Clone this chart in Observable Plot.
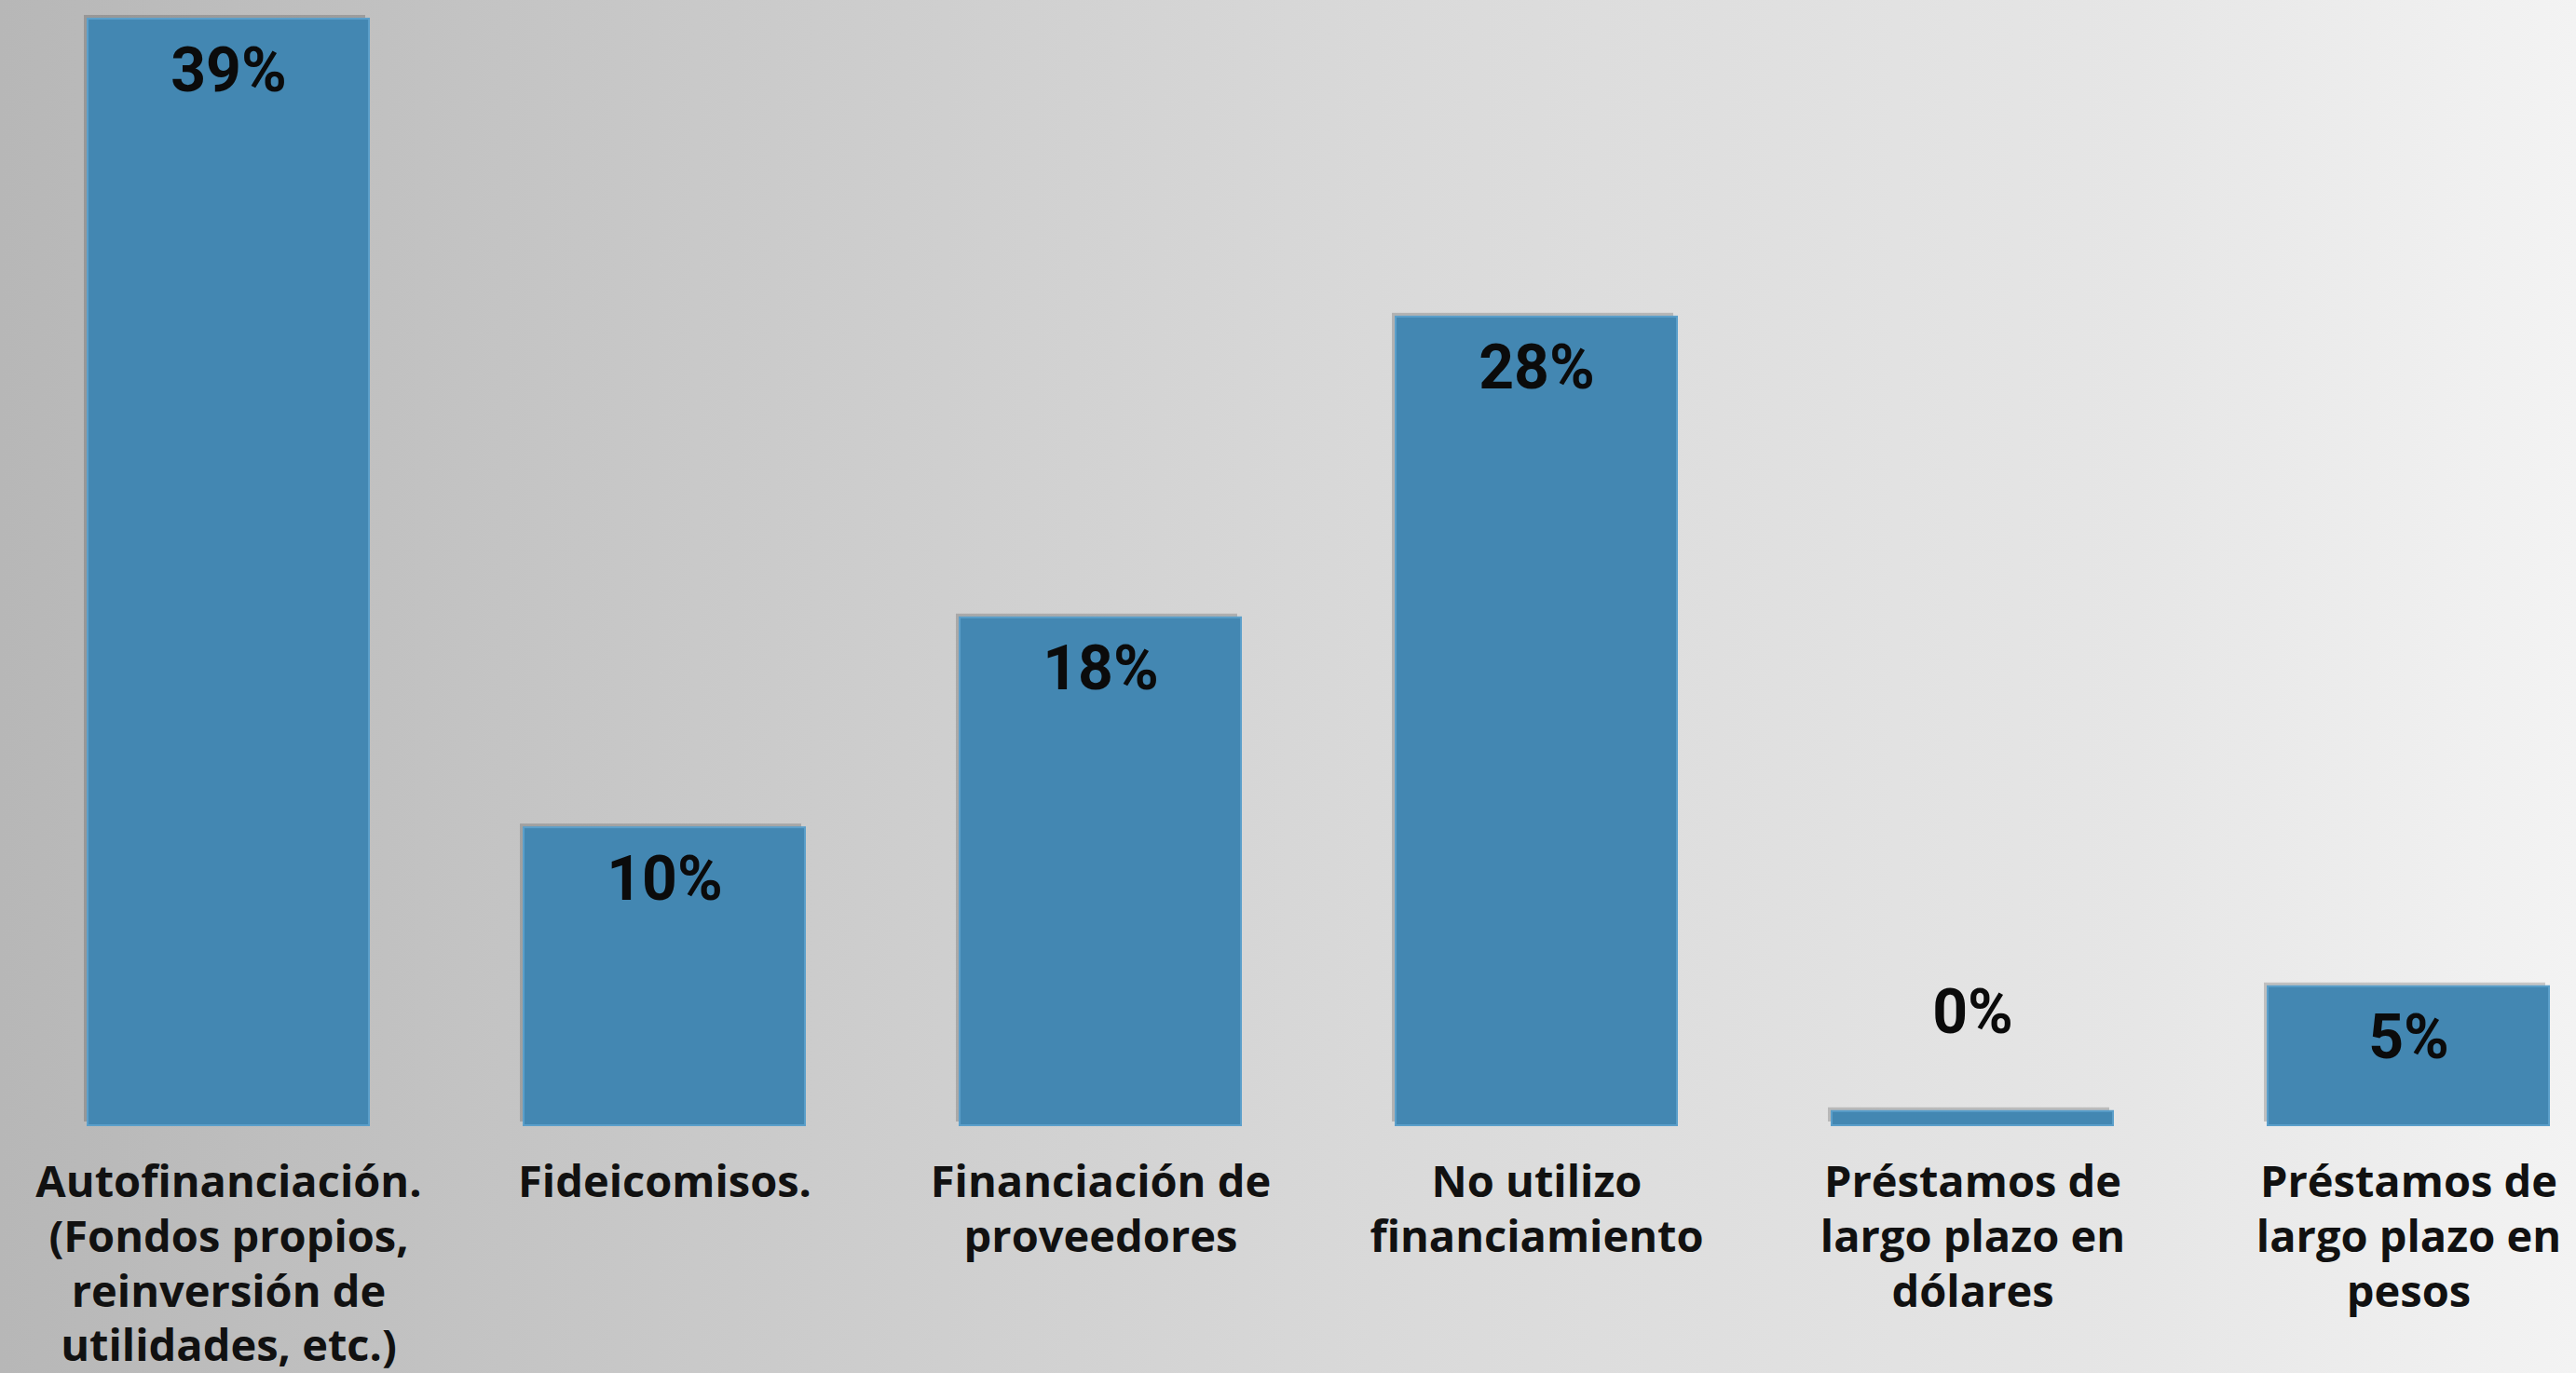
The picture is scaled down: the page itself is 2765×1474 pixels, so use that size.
<!DOCTYPE html>
<html>
<head>
<meta charset="utf-8">
<script src="https://cdn.jsdelivr.net/npm/d3@7"></script>
<script src="https://cdn.jsdelivr.net/npm/@observablehq/plot@0.6"></script>
<style>
  html, body { margin: 0; padding: 0; overflow: hidden; }
  body { width: 2765px; height: 1474px; background: linear-gradient(to right, #b7b7b7 0%, #cbcbcb 30%, #dadada 55%, #e6e6e6 83%, #f3f3f3 100%); }
  #chart svg { display: block; background: transparent; }
</style>
</head>
<body>
<div id="chart"></div>
<script>
const categories = [
  "Autofinanciación.\n(Fondos propios,\nreinversión de\nutilidades, etc.)",
  "Fideicomisos.",
  "Financiación de\nproveedores",
  "No utilizo\nfinanciamiento",
  "Préstamos de\nlargo plazo en\ndólares",
  "Préstamos de\nlargo plazo en\npesos"
];
const values = [39, 10.5, 17.9, 28.5, 0.5, 4.9];
const valueLabels = ["39%", "10%", "18%", "28%", "0%", "5%"];

const data = categories.map((c, i) => ({cat: c, value: values[i], label: valueLabels[i]}));

const W = 2765, H = 1474;
const chart = Plot.plot({
  width: W,
  height: H,
  marginTop: 0, marginBottom: 0, marginLeft: 0, marginRight: 0,
  style: {background: "transparent", overflow: "visible"},
  x: {domain: categories, range: [10, 2820], paddingInner: 0.355, paddingOuter: 0.1775, axis: null},
  y: {domain: [0, 39], range: [1208, 20], axis: null},
  marks: [
    Plot.barY(data, {x: "cat", y: "value", fill: "#000", fillOpacity: 0.18, dx: -4, dy: -4}),
    Plot.barY(data, {x: "cat", y: "value", fill: "#4387b2", stroke: "#5b9fca", strokeWidth: 2}),
    Plot.text(data.filter(d => d.value > 3), {
      x: "cat", y: "value", text: "label", dy: 56,
      fontFamily: "Roboto", fontWeight: 700, fontSize: 66, fill: "#0b0b0b"
    }),
    Plot.text(data.filter(d => d.value <= 3), {
      x: "cat", y: "value", text: "label", dy: -105,
      fontFamily: "Roboto", fontWeight: 700, fontSize: 66, fill: "#0b0b0b"
    }),
    Plot.text(data, {
      x: "cat", y: () => 0, text: "cat", dy: 35, lineAnchor: "top", lineHeight: 1.25,
      fontFamily: "Open Sans", fontWeight: 700, fontSize: 47, fill: "#111"
    })
  ]
});
document.getElementById("chart").appendChild(chart);
</script>
</body>
</html>
